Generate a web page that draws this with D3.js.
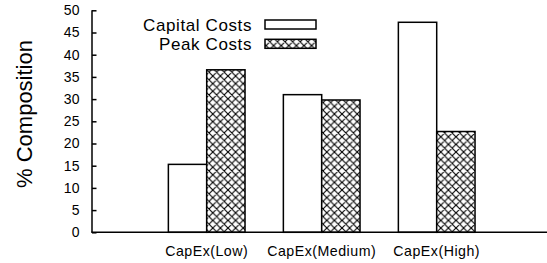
<!DOCTYPE html>
<html><head><meta charset="utf-8">
<script src="https://cdn.jsdelivr.net/npm/d3@7"></script>
<style>body{margin:0;background:#fff}svg{display:block}text{font-family:"Liberation Sans",Arial,sans-serif;fill:#000}</style>
</head><body>
<svg id="c" width="547" height="263"></svg>
<script>
const categories = ["CapEx(Low)", "CapEx(Medium)", "CapEx(High)"];
const capitalCosts = [15.3, 31.0, 47.3];
const peakCosts = [36.6, 29.8, 22.7];
const seriesNames = ["Capital Costs", "Peak Costs"];
const yTicks = [0,5,10,15,20,25,30,35,40,45,50];

const svg = d3.select("#c");
const defs = svg.append("defs");
const pat = defs.append("pattern").attr("id","hatch").attr("patternUnits","userSpaceOnUse")
  .attr("width",7.6).attr("height",7.6);
pat.append("rect").attr("width",7.6).attr("height",7.6).attr("fill","#fff");
pat.append("path").attr("d","M0,0L7.6,7.6M7.6,0L0,7.6M-1,6.6L1,8.6M6.6,-1L8.6,1M-1,1L1,-1M6.6,8.6L8.6,6.6")
  .attr("stroke","#000").attr("stroke-width",1.15);

const y = d3.scaleLinear().domain([0,50]).range([232.3,10.3]);
const x = d3.scaleLinear().domain([0,4]).range([91.7,551.7]);
const bw = (x(1)-x(0))/3;

// y axis
const yAxis = d3.axisLeft(y).tickValues(yTicks).tickSizeInner(-4.5).tickSizeOuter(0).tickPadding(12);
const ga = svg.append("g").attr("transform","translate(92,0)").call(yAxis);
ga.select(".domain").remove();
ga.selectAll(".tick line").attr("stroke","#000").attr("stroke-width",1.5);
ga.selectAll(".tick text").attr("font-size",14).attr("letter-spacing","0.4px")
  .style("font-family","'Liberation Sans',Arial,sans-serif").attr("fill","#000");

// bars
const data = categories.map((c,i)=>({c,i,cap:capitalCosts[i],peak:peakCosts[i]}));
svg.append("g").selectAll("rect.cap").data(data).join("rect")
  .attr("x",d=>x(d.i+1)-bw).attr("width",bw)
  .attr("y",d=>y(d.cap)).attr("height",d=>y(0)-y(d.cap))
  .attr("fill","#fff").attr("stroke","#000").attr("stroke-width",1.5);
svg.append("g").selectAll("rect.peak").data(data).join("rect")
  .attr("x",d=>x(d.i+1)).attr("width",bw)
  .attr("y",d=>y(d.peak)).attr("height",d=>y(0)-y(d.peak))
  .attr("fill","url(#hatch)").attr("stroke","#000").attr("stroke-width",1.5);

// axes lines
svg.append("line").attr("x1",92).attr("x2",92).attr("y1",y(50)).attr("y2",y(0))
  .attr("stroke","#000").attr("stroke-width",1.5);
svg.append("line").attr("x1",91.25).attr("x2",547).attr("y1",y(0)).attr("y2",y(0))
  .attr("stroke","#000").attr("stroke-width",1.5);

// x labels
svg.append("g").selectAll("text").data(data).join("text")
  .attr("x",d=>x(d.i+1)).attr("y",256).attr("text-anchor","middle")
  .attr("font-size",14.2).attr("letter-spacing","0.5px").text(d=>d.c);

// y title
svg.append("text").attr("transform","translate(32,114) rotate(-90)")
  .attr("text-anchor","middle").attr("font-size",22).text("% Composition");

// legend
const lg = svg.append("g");
seriesNames.forEach((s,i)=>{
  const yy = 20 + i*19.3;
  lg.append("text").attr("x",252).attr("y",yy+10.8).attr("text-anchor","end")
    .attr("font-size",17).attr("letter-spacing","0.6px").text(s);
  lg.append("rect").attr("x",265).attr("y",yy).attr("width",51).attr("height",9)
    .attr("fill",i===0?"#fff":"url(#hatch)").attr("stroke","#000").attr("stroke-width",1.5);
});
</script>
</body></html>
